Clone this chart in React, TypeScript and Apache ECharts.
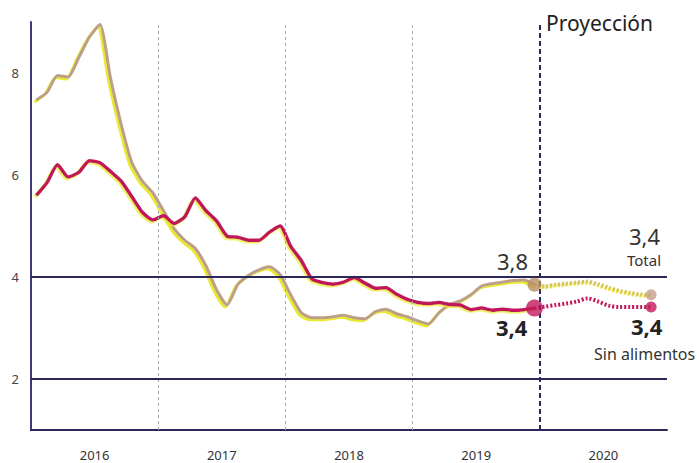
import React, { useEffect, useRef } from "react";
import * as echarts from "echarts";

const years = ["2016", "2017", "2018", "2019", "2020"];
const yTicks = [2, 4, 6, 8];
const yearBoundaries = [12, 24, 36];
const projectionStart = 48;

// Monthly values Jan 2016 .. Dec 2019
const totalValues = [
  7.47, 7.62, 7.95, 7.92, 8.3, 8.7, 8.95, 7.9, 7.0, 6.25, 5.88, 5.65,
  5.3, 4.95, 4.72, 4.56, 4.22, 3.75, 3.45, 3.85, 4.03, 4.14, 4.2, 4.05,
  3.65, 3.3, 3.2, 3.2, 3.22, 3.25, 3.2, 3.18, 3.32, 3.37, 3.28, 3.22,
  3.14, 3.08, 3.3, 3.46, 3.53, 3.65, 3.82, 3.87, 3.9, 3.93, 3.94, 3.85,
];
const coreValues = [
  5.6, 5.85, 6.2, 5.96, 6.05, 6.28, 6.24, 6.07, 5.88, 5.58, 5.27, 5.12,
  5.2, 5.05, 5.18, 5.55, 5.3, 5.1, 4.8, 4.78, 4.72, 4.72, 4.88, 5.0,
  4.6, 4.32, 3.96, 3.89, 3.86, 3.9, 3.99, 3.88, 3.78, 3.79, 3.66, 3.56,
  3.5, 3.48, 3.5, 3.46, 3.45, 3.36, 3.39, 3.35, 3.37, 3.35, 3.36, 3.39,
];
// Projection Dec 2019 .. Nov 2020
const totalProjection = [3.85, 3.82, 3.85, 3.87, 3.89, 3.91, 3.86, 3.79, 3.73, 3.69, 3.66, 3.65];
const coreProjection = [3.39, 3.42, 3.45, 3.48, 3.52, 3.58, 3.52, 3.44, 3.41, 3.41, 3.41, 3.41];

const labelTotalLast = "3,8";
const labelCoreLast = "3,4";
const labelTotalProj = "3,4";
const labelCoreProj = "3,4";

const TAN = "#bd9f88";
const YELLOW = "#e9e92e";
const CRIMSON = "#c2185a";
const NAVY = "#2b2758";
const FONT = "'Noto Sans', 'Open Sans', sans-serif";

const txt = (text: string, x: number, y: number, fontSize: number, bold = false, fill = "#333") => ({
  type: "text",
  x,
  y,
  style: {
    text,
    fontSize,
    lineHeight: fontSize,
    fontWeight: bold ? "bold" : "normal",
    fill,
    fontFamily: FONT,
    align: "left",
    verticalAlign: "middle",
  },
});

export default function App() {
  const ref = useRef<HTMLDivElement>(null);
  useEffect(() => {
    if (!ref.current) return;
    const chart = echarts.init(ref.current, undefined, { renderer: "svg" });
    const toPts = (arr: number[], start: number) => arr.map((v, i) => [start + i + 0.5, v]);
    const projStartIdx = totalValues.length - 1;
    const lastT = toPts(totalProjection, projStartIdx);
    const lastC = toPts(coreProjection, projStartIdx);

    chart.setOption({
      animation: false,
      backgroundColor: "#ffffff",
      grid: { left: 31, right: 32, top: 22, bottom: 33 },
      xAxis: [
        {
          type: "value",
          min: 0,
          max: 60,
          axisLine: { show: true, lineStyle: { color: NAVY, width: 2 } },
          axisTick: { show: false },
          axisLabel: { show: false },
          splitLine: { show: false },
        },
        {
          type: "category",
          data: years,
          boundaryGap: true,
          position: "bottom",
          axisLine: { show: false },
          axisTick: { show: false },
          axisLabel: { color: "#333", fontSize: 13, margin: 18, fontFamily: FONT },
          splitLine: { show: false },
        },
      ],
      yAxis: {
        type: "value",
        min: 1,
        max: 9,
        interval: 1,
        axisLine: { show: true, lineStyle: { color: "#3b3a7a", width: 2 } },
        axisTick: { show: false },
        splitLine: { show: false },
        axisLabel: {
          color: "#444",
          fontSize: 13,
          margin: 12,
          fontFamily: FONT,
          formatter: (v: number) => (yTicks.includes(v) ? String(v) : ""),
        },
      },
      graphic: [
        txt("Proyección", 546, 23, 21, false, "#222"),
        txt(labelTotalLast, 497, 261, 22),
        txt(labelCoreLast, 496, 327, 22, true, "#222"),
        txt(labelTotalProj, 629, 236, 22),
        txt("Total", 627, 260, 15),
        txt(labelCoreProj, 631, 326, 22, true, "#222"),
        txt("Sin alimentos", 594, 354, 16),
      ],
      series: [
        {
          type: "line",
          xAxisIndex: 0,
          data: [],
          silent: true,
          markLine: {
            silent: true,
            symbol: "none",
            label: { show: false },
            data: [
              ...yearBoundaries.map((x) => ({
                xAxis: x,
                lineStyle: { color: "#aaaaaa", width: 1, type: [3, 3] },
              })),
              { xAxis: projectionStart, lineStyle: { color: NAVY, width: 2, type: [5, 3] } },
              { yAxis: 2, lineStyle: { color: NAVY, width: 2, type: "solid" } },
              { yAxis: 4, lineStyle: { color: NAVY, width: 2, type: "solid" } },
            ],
          },
        },
        {
          name: "Total",
          type: "line",
          xAxisIndex: 0,
          data: toPts(totalValues, 0),
          showSymbol: false,
          smooth: 0.2,
          lineStyle: {
            color: TAN,
            width: 3,
            shadowColor: YELLOW,
            shadowOffsetX: -2,
            shadowOffsetY: 2,
            shadowBlur: 1,
          },
        },
        {
          name: "Sin alimentos",
          type: "line",
          xAxisIndex: 0,
          data: toPts(coreValues, 0),
          showSymbol: false,
          smooth: 0.2,
          lineStyle: {
            color: CRIMSON,
            width: 3.5,
            shadowColor: "rgba(233,233,46,0.8)",
            shadowOffsetX: -1.5,
            shadowOffsetY: 1.5,
            shadowBlur: 1,
          },
        },
        {
          name: "Total proyección",
          type: "line",
          xAxisIndex: 0,
          data: lastT,
          showSymbol: false,
          smooth: 0.3,
          lineStyle: { color: "#d8c25a", width: 4, type: [2, 2], shadowColor: YELLOW, shadowOffsetX: -1, shadowOffsetY: 1, shadowBlur: 1 },
        },
        {
          name: "Sin alimentos proyección",
          type: "line",
          xAxisIndex: 0,
          data: lastC,
          showSymbol: false,
          smooth: 0.3,
          lineStyle: { color: CRIMSON, width: 4, type: [2, 2] },
        },
        {
          type: "scatter",
          xAxisIndex: 0,
          data: [
            { value: lastT[0], symbolSize: 14, itemStyle: { color: "#b88f62" } },
            { value: lastT[lastT.length - 1], symbolSize: 11, itemStyle: { color: "#c7a08c" } },
            { value: lastC[0], symbolSize: 17, itemStyle: { color: CRIMSON } },
            { value: lastC[lastC.length - 1], symbolSize: 11, itemStyle: { color: CRIMSON } },
          ],
          z: 5,
        },
      ],
    });
    return () => chart.dispose();
  }, []);
  return <div ref={ref} style={{ position: "fixed", left: 0, top: 0, width: 699, height: 463 }} />;
}
